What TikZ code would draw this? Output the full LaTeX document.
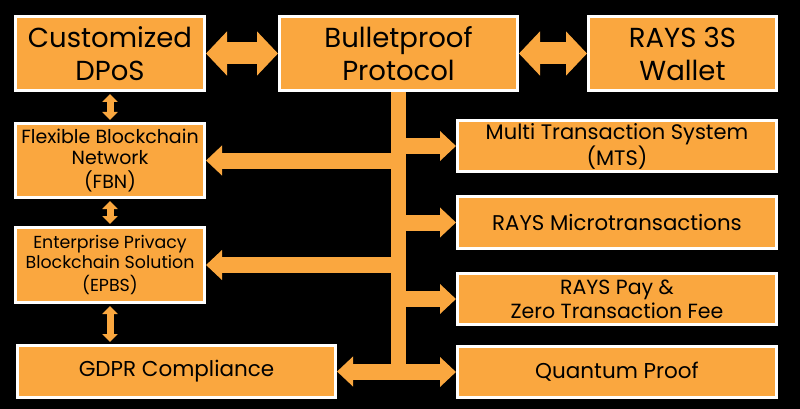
\documentclass[tikz,border=0pt]{standalone}
\usepackage{fontspec}
\setmainfont{Poppins}
\usetikzlibrary{arrows.meta}
\definecolor{orng}{RGB}{250,167,63}

\begin{document}
\begin{tikzpicture}[x=1pt,y=-1pt,
    box/.style={draw=white,line width=3pt,fill=orng,text=black,align=center,inner sep=0pt},
    bigarrow/.style={orng,line width=22pt,{Triangle[width=43pt,length=21pt]}-{Triangle[width=43pt,length=21pt]}},
    branch/.style={orng,line width=16pt,-{Triangle[width=29pt,length=16pt]}},
    smallarrow/.style={orng,line width=7pt,{Triangle[width=15pt,length=8pt]}-{Triangle[width=15pt,length=8pt]},shorten <=2pt,shorten >=2pt}]
    \fill[black] (0,0) rectangle (800,409);
    \useasboundingbox (0,0) rectangle (800,409);
    % top row
    \node[box,minimum width=189pt,minimum height=74pt,font=\fontsize{27.5}{33}\selectfont] (dpos) at (110,53.5) {Customized\\DPoS};
    \node[box,minimum width=238pt,minimum height=74pt,font=\fontsize{27.5}{33}\selectfont] (bullet) at (398.5,53.5) {Bulletproof\\Protocol};
    \node[box,minimum width=188pt,minimum height=74pt,font=\fontsize{27.5}{33}\selectfont] (wallet) at (682.5,53.5) {RAYS 3S\\Wallet};
    % left column
    \node[box,minimum width=189pt,minimum height=74pt,font=\fontsize{19}{21}\selectfont] (fbn) at (110,160.5) {Flexible Blockchain\\Network\\[3pt](FBN)};
    \node[box,minimum width=189pt,minimum height=75pt,font=\fontsize{17.4}{20}\selectfont] (epbs) at (110,265) {Enterprise Privacy\\Blockchain Solution\\[3pt](EPBS)};
    \node[box,minimum width=318pt,minimum height=52pt,font=\fontsize{21.5}{25}\selectfont] (gdpr) at (176.5,371.5) {GDPR Compliance};
    % right column
    \node[box,minimum width=319pt,minimum height=51pt,font=\fontsize{21}{26}\selectfont] (mts) at (617,146) {Multi Transaction System\\(MTS)};
    \node[box,minimum width=319pt,minimum height=52pt,font=\fontsize{21.3}{25}\selectfont] (micro) at (617,222.5) {RAYS Microtransactions};
    \node[box,minimum width=319pt,minimum height=51pt,font=\fontsize{20.5}{24}\selectfont] (pay) at (617,299) {RAYS Pay \&\\Zero Transaction Fee};
    \node[box,minimum width=319pt,minimum height=51pt,font=\fontsize{21.5}{25}\selectfont] (quantum) at (617,372) {Quantum Proof};
    % arrows
    \draw[bigarrow] (dpos) -- (bullet);
    \draw[bigarrow] (bullet) -- (wallet);
    \draw[smallarrow] (dpos) -- (fbn);
    \draw[smallarrow] (fbn) -- (epbs);
    \draw[smallarrow] (epbs.south) -- (epbs.south |- gdpr.north);
    \coordinate (tbot) at (398.5,379.5);
    \draw[orng,line width=15pt] (bullet.south) -- (tbot);
    \draw[branch] (bullet.south |- mts) -- (mts);
    \draw[branch] (bullet.south |- micro) -- (micro);
    \draw[branch] (bullet.south |- pay) -- (pay);
    \draw[branch] (bullet.south |- quantum) -- (quantum);
    \draw[branch] (bullet.south |- fbn) -- (fbn);
    \draw[branch] (bullet.south |- epbs) -- (epbs);
    \draw[branch] (bullet.south |- gdpr) -- (gdpr);
\end{tikzpicture}
\end{document}
